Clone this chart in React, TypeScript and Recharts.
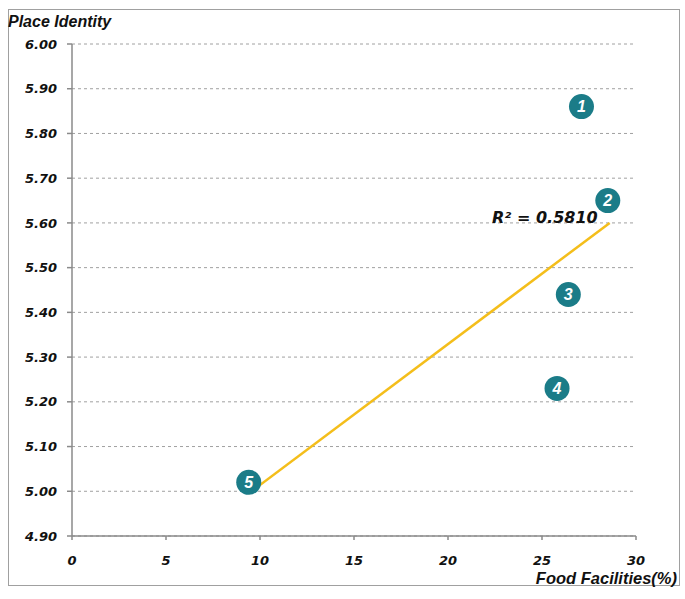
import React from 'react';
import { ScatterChart, Scatter, XAxis, YAxis, CartesianGrid, ReferenceDot } from 'recharts';

const pointLabels = ['1', '2', '3', '4', '5'];
const foodFacilities = [27.1, 28.5, 26.4, 25.8, 9.4];
const placeIdentity = [5.86, 5.65, 5.44, 5.23, 5.02];
const trendX = [9.4, 28.6];
const trendY = [4.995, 5.6];
const xTicks = [0, 5, 10, 15, 20, 25, 30];
const yTicks = [4.9, 5.0, 5.1, 5.2, 5.3, 5.4, 5.5, 5.6, 5.7, 5.8, 5.9, 6.0];
const rSquared = 'R² = 0.5810';

const points = pointLabels.map((n, i) => ({ n, x: foodFacilities[i], y: placeIdentity[i] }));
const trend = trendX.map((x, i) => ({ x, y: trendY[i] }));

const FONT = '"Liberation Sans", Arial, sans-serif';
const HEAVY = '"DejaVu Sans", sans-serif';
const TEAL = '#1B7C88';
const GOLD = '#F4BE1B';
const AXIS = '#8a8a8a';

const PointShape = (props: any) => {
  const { cx, cy, payload } = props;
  return (
    <g>
      <circle cx={cx} cy={cy} r={12.5} fill={TEAL} />
      <text x={cx} y={cy + 5.5} textAnchor="middle" fill="#fff" fontFamily={FONT} fontWeight="bold" fontStyle="italic" fontSize={16}>
        {payload.n}
      </text>
    </g>
  );
};

const Empty = () => <g />;

export default function App() {
  const tickStyle = { fontFamily: HEAVY, fontWeight: 'bold', fontStyle: 'italic', fontSize: 13, fill: '#111' } as any;
  return (
    <div style={{ position: 'absolute', left: 0, top: 0, width: 685, height: 599, background: '#fff' }}>
      <div style={{ position: 'absolute', left: 8, top: 9, width: 670, height: 575, border: '1.5px solid #a0a0a0' }} />
      <ScatterChart width={685} height={599} margin={{ top: 44, right: 49, bottom: 33, left: 0 }}>
        <CartesianGrid horizontal vertical={false} stroke="#a0a0a0" strokeDasharray="3 3" />
        <XAxis
          type="number"
          dataKey="x"
          domain={[0, 30]}
          ticks={xTicks}
          allowDataOverflow
          stroke={AXIS}
          strokeWidth={1.5}
          tickSize={4}
          tickMargin={16}
          tick={tickStyle}
        />
        <YAxis
          type="number"
          dataKey="y"
          domain={[4.9, 6.0]}
          ticks={yTicks}
          allowDataOverflow
          width={72}
          stroke={AXIS}
          strokeWidth={1.5}
          tickSize={5}
          tickMargin={10}
          tick={tickStyle}
          tickFormatter={(v: number) => v.toFixed(2)}
        />
        <Scatter data={trend} line={{ stroke: GOLD, strokeWidth: 2.5 }} shape={Empty} isAnimationActive={false} />
        <Scatter data={points} shape={PointShape} isAnimationActive={false} />
        <ReferenceDot
          x={trendX[1]}
          y={trendY[1]}
          r={0}
          shape={(p: any) => (
            <text x={p.cx - 12} y={p.cy} textAnchor="end" fontFamily={HEAVY} fontWeight="bold" fontStyle="italic" fontSize={16} fill="#111">
              {rSquared}
            </text>
          )}
        />
      </ScatterChart>
      <div style={{ position: 'absolute', left: 8, top: 13, fontFamily: FONT, fontWeight: 'bold', fontStyle: 'italic', fontSize: 16, lineHeight: '18px', color: '#111', whiteSpace: 'nowrap' }}>
        Place Identity
      </div>
      <div style={{ position: 'absolute', right: 8, top: 571, fontFamily: FONT, fontWeight: 'bold', fontStyle: 'italic', fontSize: 16.5, lineHeight: '14px', color: '#111', whiteSpace: 'nowrap' }}>
        Food Facilities(%)
      </div>
    </div>
  );
}
